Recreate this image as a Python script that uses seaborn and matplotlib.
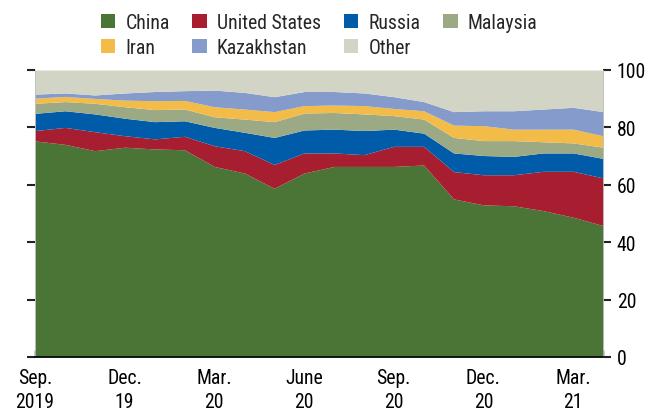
import matplotlib
matplotlib.use('Agg')
import matplotlib.pyplot as plt
import seaborn as sns
import numpy as np
import pandas as pd
from matplotlib.patches import Patch
from matplotlib import font_manager

# Monthly shares (percent), Sep 2019 - Apr 2021
months = pd.date_range('2019-09-01', periods=20, freq='MS')
china = [75.3, 74.1, 71.9, 73.1, 72.5, 72.2, 66.4, 64.1, 58.8, 64.1,
         66.4, 66.4, 66.4, 66.9, 55.1, 53.0, 52.7, 51.0, 48.7, 45.8]
united_states = [3.6, 5.9, 6.6, 4.0, 3.5, 4.7, 7.2, 7.8, 8.3, 7.0,
                 4.7, 4.1, 7.0, 6.5, 9.5, 10.5, 10.8, 13.7, 16.0, 16.6]
russia = [6.0, 5.8, 6.2, 6.1, 6.0, 5.4, 6.4, 6.4, 9.4, 8.0,
          8.3, 8.4, 6.0, 4.6, 6.5, 6.7, 6.4, 6.4, 6.4, 6.8]
malaysia = [3.5, 3.2, 3.7, 4.0, 4.2, 4.1, 3.7, 4.6, 5.5, 5.9,
            5.8, 5.8, 4.7, 4.9, 5.4, 5.2, 5.5, 3.9, 3.5, 3.9]
iran = [1.8, 1.8, 1.7, 2.3, 3.1, 3.0, 3.5, 3.5, 3.5, 2.6,
        2.6, 2.9, 2.5, 2.9, 4.3, 5.2, 4.0, 4.4, 4.8, 4.0]
kazakhstan = [1.4, 1.2, 1.2, 2.5, 3.2, 3.4, 5.8, 5.8, 5.2, 4.9,
              4.7, 4.4, 4.1, 3.2, 4.7, 5.2, 6.4, 7.0, 7.6, 8.4]
other = [8.4, 8.0, 8.7, 8.0, 7.5, 7.2, 7.0, 7.8, 9.3, 7.5,
         7.5, 8.0, 9.3, 11.0, 14.5, 14.2, 14.2, 13.6, 13.0, 14.5]

series_names = ['China', 'United States', 'Russia', 'Malaysia', 'Iran', 'Kazakhstan', 'Other']
tick_idx = [0, 3, 6, 9, 12, 15, 18]
tick_labels = ['Sep.\n2019', 'Dec.\n19', 'Mar.\n20', 'June\n20', 'Sep.\n20', 'Dec.\n20', 'Mar.\n21']
y_ticks = [0, 20, 40, 60, 80, 100]

colors = ['#4a7536', '#a61e2f', '#005ca8', '#9baa84', '#f3bc48', '#849bcb', '#d2d5c6']

sns.set_theme(style='ticks')
names = {f.name for f in font_manager.fontManager.ttflist}
fam = None
for cand in ['Liberation Sans Narrow', 'Arial Narrow', 'Roboto Condensed', 'Open Sans Condensed']:
    if cand in names:
        fam = cand
        break
if fam is None:
    plt.rcParams['font.family'] = ['DejaVu Sans']
    plt.rcParams['font.stretch'] = 'condensed'
    fs = 13
else:
    plt.rcParams['font.family'] = [fam, 'DejaVu Sans']
    fs = 14.2
plt.rcParams['font.size'] = fs

df = pd.DataFrame({'China': china, 'United States': united_states, 'Russia': russia,
                   'Malaysia': malaysia, 'Iran': iran, 'Kazakhstan': kazakhstan,
                   'Other': other}, index=months)

fig = plt.figure(figsize=(6.56, 4.14), dpi=100)
ax = fig.add_axes([35/656, 1 - 358/414, (603 - 35)/656, (358 - 71)/414])
x = np.arange(len(df))
ax.stackplot(x, *[df[c].values for c in series_names], colors=colors, linewidth=0)

ax.set_xlim(0, len(df) - 1)
ax.set_ylim(0, 100)

ax.set_xticks(tick_idx)
ax.set_xticklabels(tick_labels, fontsize=fs, linespacing=1.3)
ax.set_xticks(x, minor=True)
ax.tick_params(axis='x', which='both', direction='in', length=5, width=1, color='black',
               pad=8, labelcolor='black', top=False)

ax.set_yticks(y_ticks)
ax.yaxis.set_ticks_position('both')
ax.tick_params(axis='y', which='major', direction='out', length=6, width=1.5,
               color='#222222', left=True, right=True, labelleft=False,
               labelright=True, pad=4, labelsize=fs, labelcolor='black')

for s in ['left', 'right']:
    ax.spines[s].set_color('#bbbbbb')
    ax.spines[s].set_linewidth(0.6)
ax.spines['top'].set_visible(False)
ax.spines['bottom'].set_color('black')
ax.spines['bottom'].set_linewidth(1.2)
ax.spines['bottom'].set_zorder(5)
ax.set_xlabel('')
ax.set_ylabel('')

handles = [Patch(facecolor=c, edgecolor='none', label=n) for n, c in zip(series_names, colors)]
order = [0, 4, 1, 5, 2, 6, 3]
fig.legend([handles[i] for i in order], [series_names[i] for i in order],
           loc='upper center', bbox_to_anchor=(319/656, 1 - 6/414), ncol=4,
           frameon=False, fontsize=fs, handlelength=0.75, handleheight=0.75,
           handletextpad=0.5, columnspacing=1.15, labelspacing=0.3, borderaxespad=0)

fig.savefig('out.png', dpi=100)
